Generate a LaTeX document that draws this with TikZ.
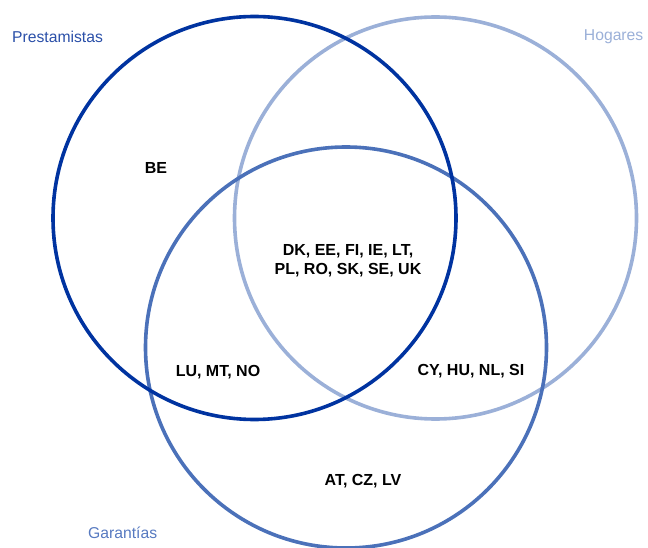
\documentclass[tikz,border=0pt]{standalone}
\usepackage{fontspec}
\setmainfont{Liberation Sans}
\definecolor{cPrest}{HTML}{0033A0}
\definecolor{cPrestTxt}{HTML}{2A4FA8}
\definecolor{cHog}{HTML}{9BB0D8}
\definecolor{cGar}{HTML}{4B71B9}
\definecolor{cGarTxt}{HTML}{5679C0}
\begin{document}
\begin{tikzpicture}[x=1pt,y=-1pt,
  ring/.style={line width=3.6pt},
  cc/.style={font=\fontsize{16}{19}\selectfont\bfseries, text=black, align=center, inner sep=0pt},
  setlabel/.style={font=\fontsize{15.7}{19}\selectfont, inner sep=0pt}]
\useasboundingbox (0,0) rectangle (648,548);
\draw[ring, cHog] (435.5,218) circle (201);
\draw[ring, cGar] (346,347.5) circle (200.5);
\draw[ring, cPrest] (254.5,218) circle (201.5);
\node[setlabel, text=cPrestTxt, anchor=west] (lp) at (12,36.5) {Prestamistas};
\node[setlabel, text=cHog, anchor=east] (lh) at (643.5,36.5) {Hogares};
\node[setlabel, text=cGarTxt, anchor=west] (lg) at (88,532.5) {Garantías};
\node[cc] (be) at (156,168) {BE};
\node[cc] (all) at (348,260.5) {DK, EE, FI, IE, LT,\\PL, RO, SK, SE, UK};
\node[cc] (pg) at (218,372.5) {LU, MT, NO};
\node[cc] (hg) at (471,371.5) {CY, HU, NL, SI};
\node[cc] (g) at (363,481) {AT, CZ, LV};
\end{tikzpicture}
\end{document}
